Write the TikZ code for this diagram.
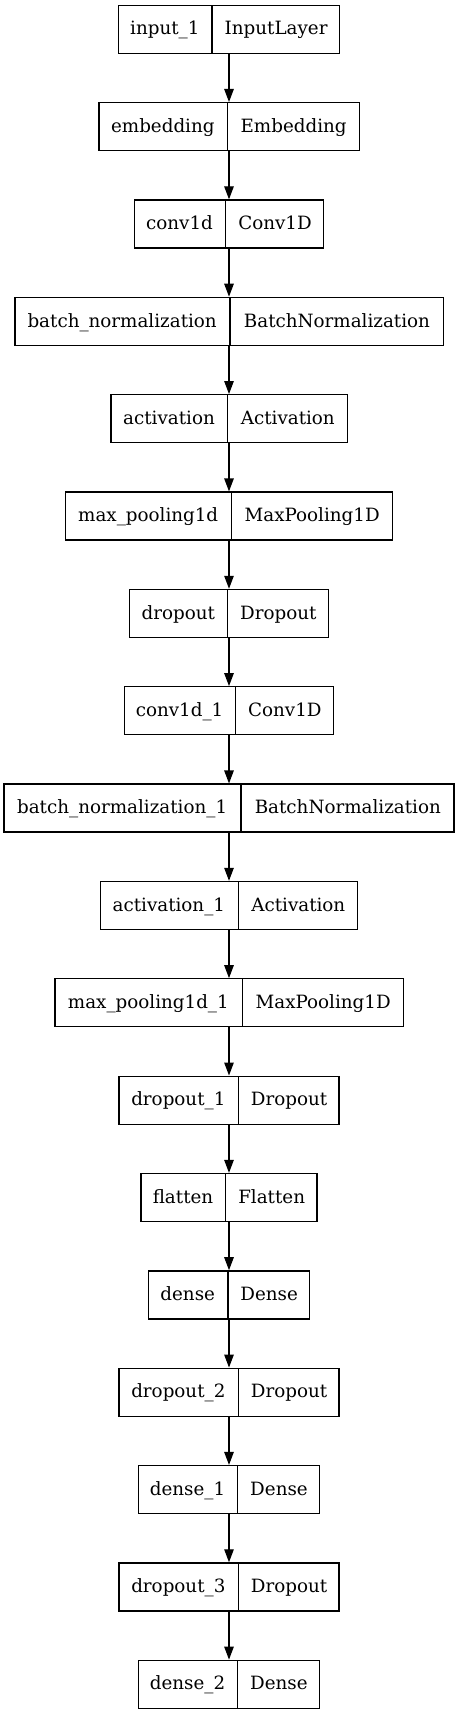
\documentclass[tikz,border=0pt]{standalone}
\usepackage{fontspec}
\setmainfont{DejaVu Serif}
\usetikzlibrary{shapes.multipart,arrows.meta}

% one field of a record box: fixed width, fixed height
\newcommand{\fld}[2]{\makebox[#1pt]{\rule[-18.3pt]{0pt}{48pt}#2}}

\tikzset{
  layer/.style={draw=black, line width=1.3pt, rectangle split,
    rectangle split horizontal, rectangle split parts=2,
    inner xsep=0pt, inner ysep=0pt, font=\fontsize{18.3}{22}\selectfont},
  flow/.style={-{Triangle[length=13pt,width=9.5pt]}, line width=1.2pt}
}

\begin{document}
\begin{tikzpicture}[x=1pt, y=-1pt]

  % Page
  \useasboundingbox (0,0) rectangle (459,1715);

  % Layers
  \node[layer] (input)  at (229, 29.3)   {\fld{93}{input\_1}\nodepart{two}\fld{127}{InputLayer}};
  \node[layer] (embed)  at (229, 126.65) {\fld{128}{embedding}\nodepart{two}\fld{131}{Embedding}};
  \node[layer] (conv)   at (229, 224.0)  {\fld{90.7}{conv1d}\nodepart{two}\fld{97.6}{Conv1D}};
  \node[layer] (bn)     at (229, 321.35) {\fld{214.6}{batch\_normalization}\nodepart{two}\fld{212.4}{BatchNormalization}};
  \node[layer] (act)    at (229, 418.7)  {\fld{116.3}{activation}\nodepart{two}\fld{118.7}{Activation}};
  \node[layer] (pool)   at (229, 516.05) {\fld{165}{max\_pooling1d}\nodepart{two}\fld{160.3}{MaxPooling1D}};
  \node[layer] (drop)   at (229, 613.4)  {\fld{97.3}{dropout}\nodepart{two}\fld{100}{Dropout}};
  \node[layer] (convA)  at (229, 710.75) {\fld{110.4}{conv1d\_1}\nodepart{two}\fld{97.6}{Conv1D}};
  \node[layer] (bnA)    at (229, 808.1)  {\fld{236.3}{batch\_normalization\_1}\nodepart{two}\fld{212.4}{BatchNormalization}};
  \node[layer] (actA)   at (229, 905.45) {\fld{137.3}{activation\_1}\nodepart{two}\fld{119}{Activation}};
  \node[layer] (poolA)  at (229, 1002.8) {\fld{187}{max\_pooling1d\_1}\nodepart{two}\fld{160}{MaxPooling1D}};
  \node[layer] (dropA)  at (229, 1100.15){\fld{118.7}{dropout\_1}\nodepart{two}\fld{100}{Dropout}};
  \node[layer] (flat)   at (229, 1197.5) {\fld{84}{flatten}\nodepart{two}\fld{90.7}{Flatten}};
  \node[layer] (dense)  at (229, 1294.85){\fld{79}{dense}\nodepart{two}\fld{81.3}{Dense}};
  \node[layer] (dropB)  at (229, 1392.2) {\fld{118.7}{dropout\_2}\nodepart{two}\fld{100}{Dropout}};
  \node[layer] (denseA) at (229, 1489.55){\fld{98.7}{dense\_1}\nodepart{two}\fld{81.6}{Dense}};
  \node[layer] (dropC)  at (229, 1586.9) {\fld{118.7}{dropout\_3}\nodepart{two}\fld{100}{Dropout}};
  \node[layer] (denseB) at (229, 1684.25){\fld{98.4}{dense\_2}\nodepart{two}\fld{81.6}{Dense}};

  % Arrows
  \draw[flow] (input.south)  -- (embed.north);
  \draw[flow] (embed.south)  -- (conv.north);
  \draw[flow] (conv.south)   -- (bn.north);
  \draw[flow] (bn.south)     -- (act.north);
  \draw[flow] (act.south)    -- (pool.north);
  \draw[flow] (pool.south)   -- (drop.north);
  \draw[flow] (drop.south)   -- (convA.north);
  \draw[flow] (convA.south)  -- (bnA.north);
  \draw[flow] (bnA.south)    -- (actA.north);
  \draw[flow] (actA.south)   -- (poolA.north);
  \draw[flow] (poolA.south)  -- (dropA.north);
  \draw[flow] (dropA.south)  -- (flat.north);
  \draw[flow] (flat.south)   -- (dense.north);
  \draw[flow] (dense.south)  -- (dropB.north);
  \draw[flow] (dropB.south)  -- (denseA.north);
  \draw[flow] (denseA.south) -- (dropC.north);
  \draw[flow] (dropC.south)  -- (denseB.north);

\end{tikzpicture}
\end{document}
